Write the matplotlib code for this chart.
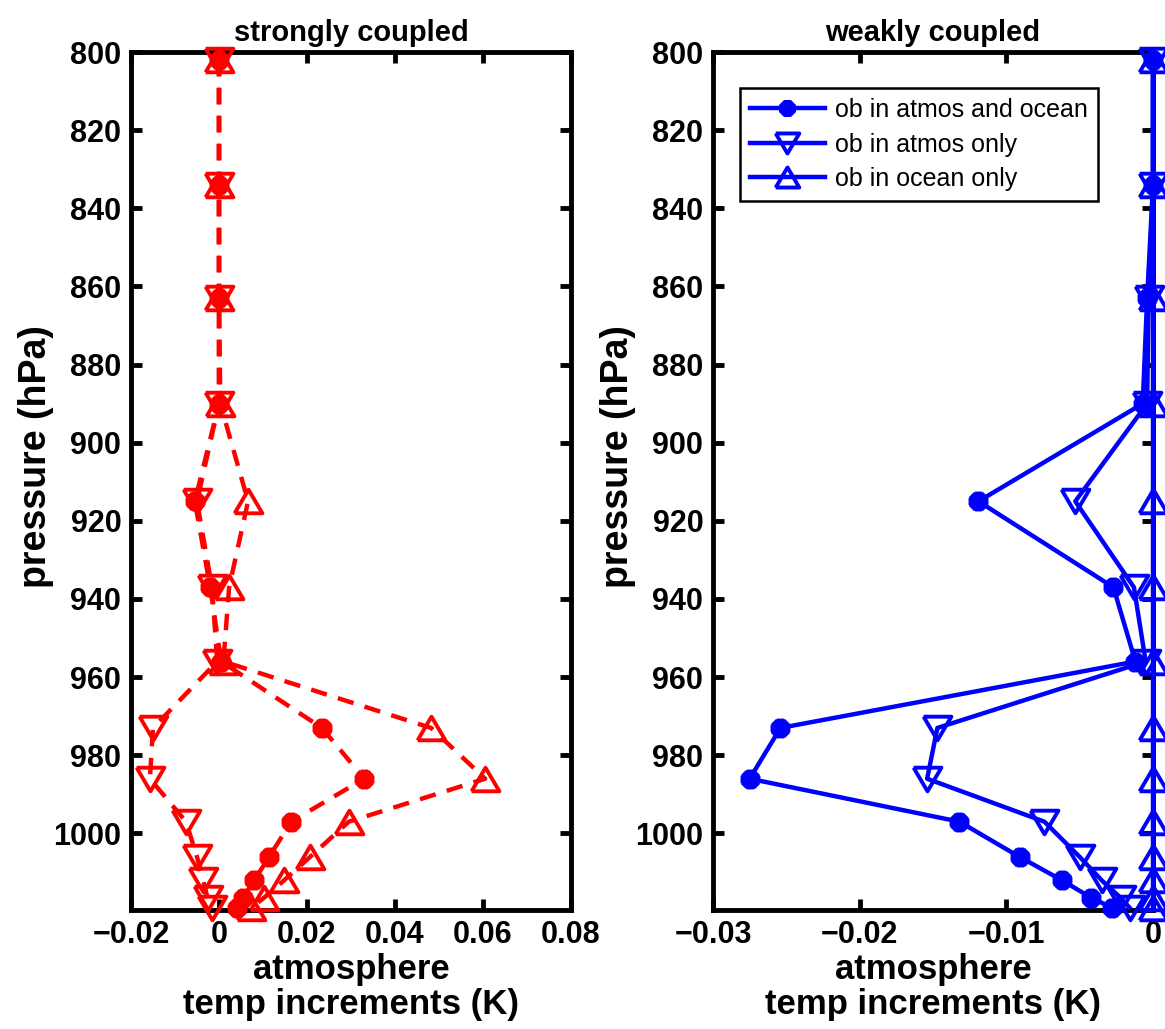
import numpy as np
import matplotlib
matplotlib.use("Agg")
import matplotlib.pyplot as plt

plt.rcParams['font.family'] = ['Liberation Sans', 'DejaVu Sans']

# pressure levels (hPa)
pressure = [802, 834, 863, 890, 915, 937, 956, 973, 986, 997, 1006, 1012, 1016.5, 1019]

# strongly coupled, atmosphere temp increments (K)
strong_both = [0, 0, 0, 0, -0.0055, -0.002, 0.0005, 0.0234, 0.033, 0.0164, 0.0114, 0.008, 0.0055, 0.0042]
strong_atmos = [0, 0, 0, 0, -0.005, -0.0016, -0.0004, -0.015, -0.0157, -0.0075, -0.0050, -0.0036, -0.0026, -0.0016]
strong_ocean = [0, 0, 0, 0.0003, 0.0066, 0.0023, 0.001, 0.0482, 0.0605, 0.0295, 0.0207, 0.0148, 0.0102, 0.0073]

# weakly coupled
weak_both = [0, 0, -0.0004, -0.0007, -0.0119, -0.0027, -0.0012, -0.0254, -0.0275, -0.0132, -0.0091, -0.0062, -0.0042, -0.0028]
weak_atmos = [0, 0, -0.0003, -0.0004, -0.0053, -0.0013, -0.0005, -0.0147, -0.0154, -0.0074, -0.0050, -0.0035, -0.0022, -0.0016]
weak_ocean = [0, 0, 0, 0, 0, 0, 0, 0, 0, 0, 0, 0, 0, 0]

labels = ["ob in atmos and ocean", "ob in atmos only", "ob in ocean only"]

# flatter triangles, closer to the MATLAB look
tri_down = [(-1, 0.85), (1, 0.85), (0, -0.85), (-1, 0.85)]
tri_up = [(-1, -0.85), (1, -0.85), (0, 0.85), (-1, -0.85)]

fig = plt.figure(figsize=(11.65, 10.29), dpi=100)
ax1 = fig.add_axes([131 / 1165, 119 / 1029, 440 / 1165, 858 / 1029])
ax2 = fig.add_axes([713 / 1165, 119 / 1029, 440 / 1165, 858 / 1029])


def draw_panel(ax, series, color, ls):
    markers = ['dot', tri_down, tri_up]
    for vals, mk, lab in zip(series, markers, labels):
        if mk == 'dot':
            ax.plot(vals, pressure, color=color, linestyle=ls, lw=3.2, marker=(8, 2, 0),
                    ms=14, mew=5, mfc=color, label=lab, clip_on=False, zorder=3)
        else:
            ax.plot(vals, pressure, color=color, linestyle=ls, lw=3.2, marker=mk,
                    ms=20, mew=2.8, mfc='none', label=lab, clip_on=False, zorder=3)
    ax.set_ylim(1019.6, 800)
    ax.set_yticks(np.arange(800, 1001, 20))
    ax.tick_params(direction='in', length=8, width=3.5, top=True, right=True,
                   labelsize=22, pad=7)
    for lbl in ax.get_xticklabels() + ax.get_yticklabels():
        lbl.set_fontweight('bold')
    for sp in ax.spines.values():
        sp.set_linewidth(3.5)
    ax.set_ylabel("pressure (hPa)", fontsize=27, fontweight='bold')
    ax.yaxis.set_label_coords(-0.176, 0.528)
    ax.set_xlabel("atmosphere\ntemp increments (K)", fontsize=25, fontweight='bold',
                  labelpad=2, linespacing=1.1)


draw_panel(ax1, [strong_both, strong_atmos, strong_ocean], 'red', (0, (3.7, 2.6)))
ax1.set_xlim(-0.02, 0.08)
ax1.set_xticks([-0.02, 0, 0.02, 0.04, 0.06, 0.08])
ax1.set_xticklabels(['\u22120.02', '0', '0.02', '0.04', '0.06', '0.08'], fontweight='bold')
ax1.set_title("strongly coupled", fontsize=21, fontweight='bold', pad=8)

draw_panel(ax2, [weak_both, weak_atmos, weak_ocean], 'blue', '-')
ax2.set_xlim(-0.03, 0)
ax2.set_xticks([-0.03, -0.02, -0.01, 0])
ax2.set_xticklabels(['\u22120.03', '\u22120.02', '\u22120.01', '0'], fontweight='bold')
ax2.set_title("weakly coupled", fontsize=21, fontweight='bold', pad=8)

leg = ax2.legend(loc='upper left', bbox_to_anchor=(0.061, 0.958), borderaxespad=0,
                 fontsize=18, handlelength=3.0, fancybox=False, framealpha=1,
                 edgecolor='black', borderpad=0.4, labelspacing=0.42,
                 handletextpad=0.4)
leg.get_frame().set_linewidth(1.8)
for h in leg.legend_handles:
    h.set_markersize(h.get_markersize() * 0.85)

fig.savefig("out.png", dpi=100)
